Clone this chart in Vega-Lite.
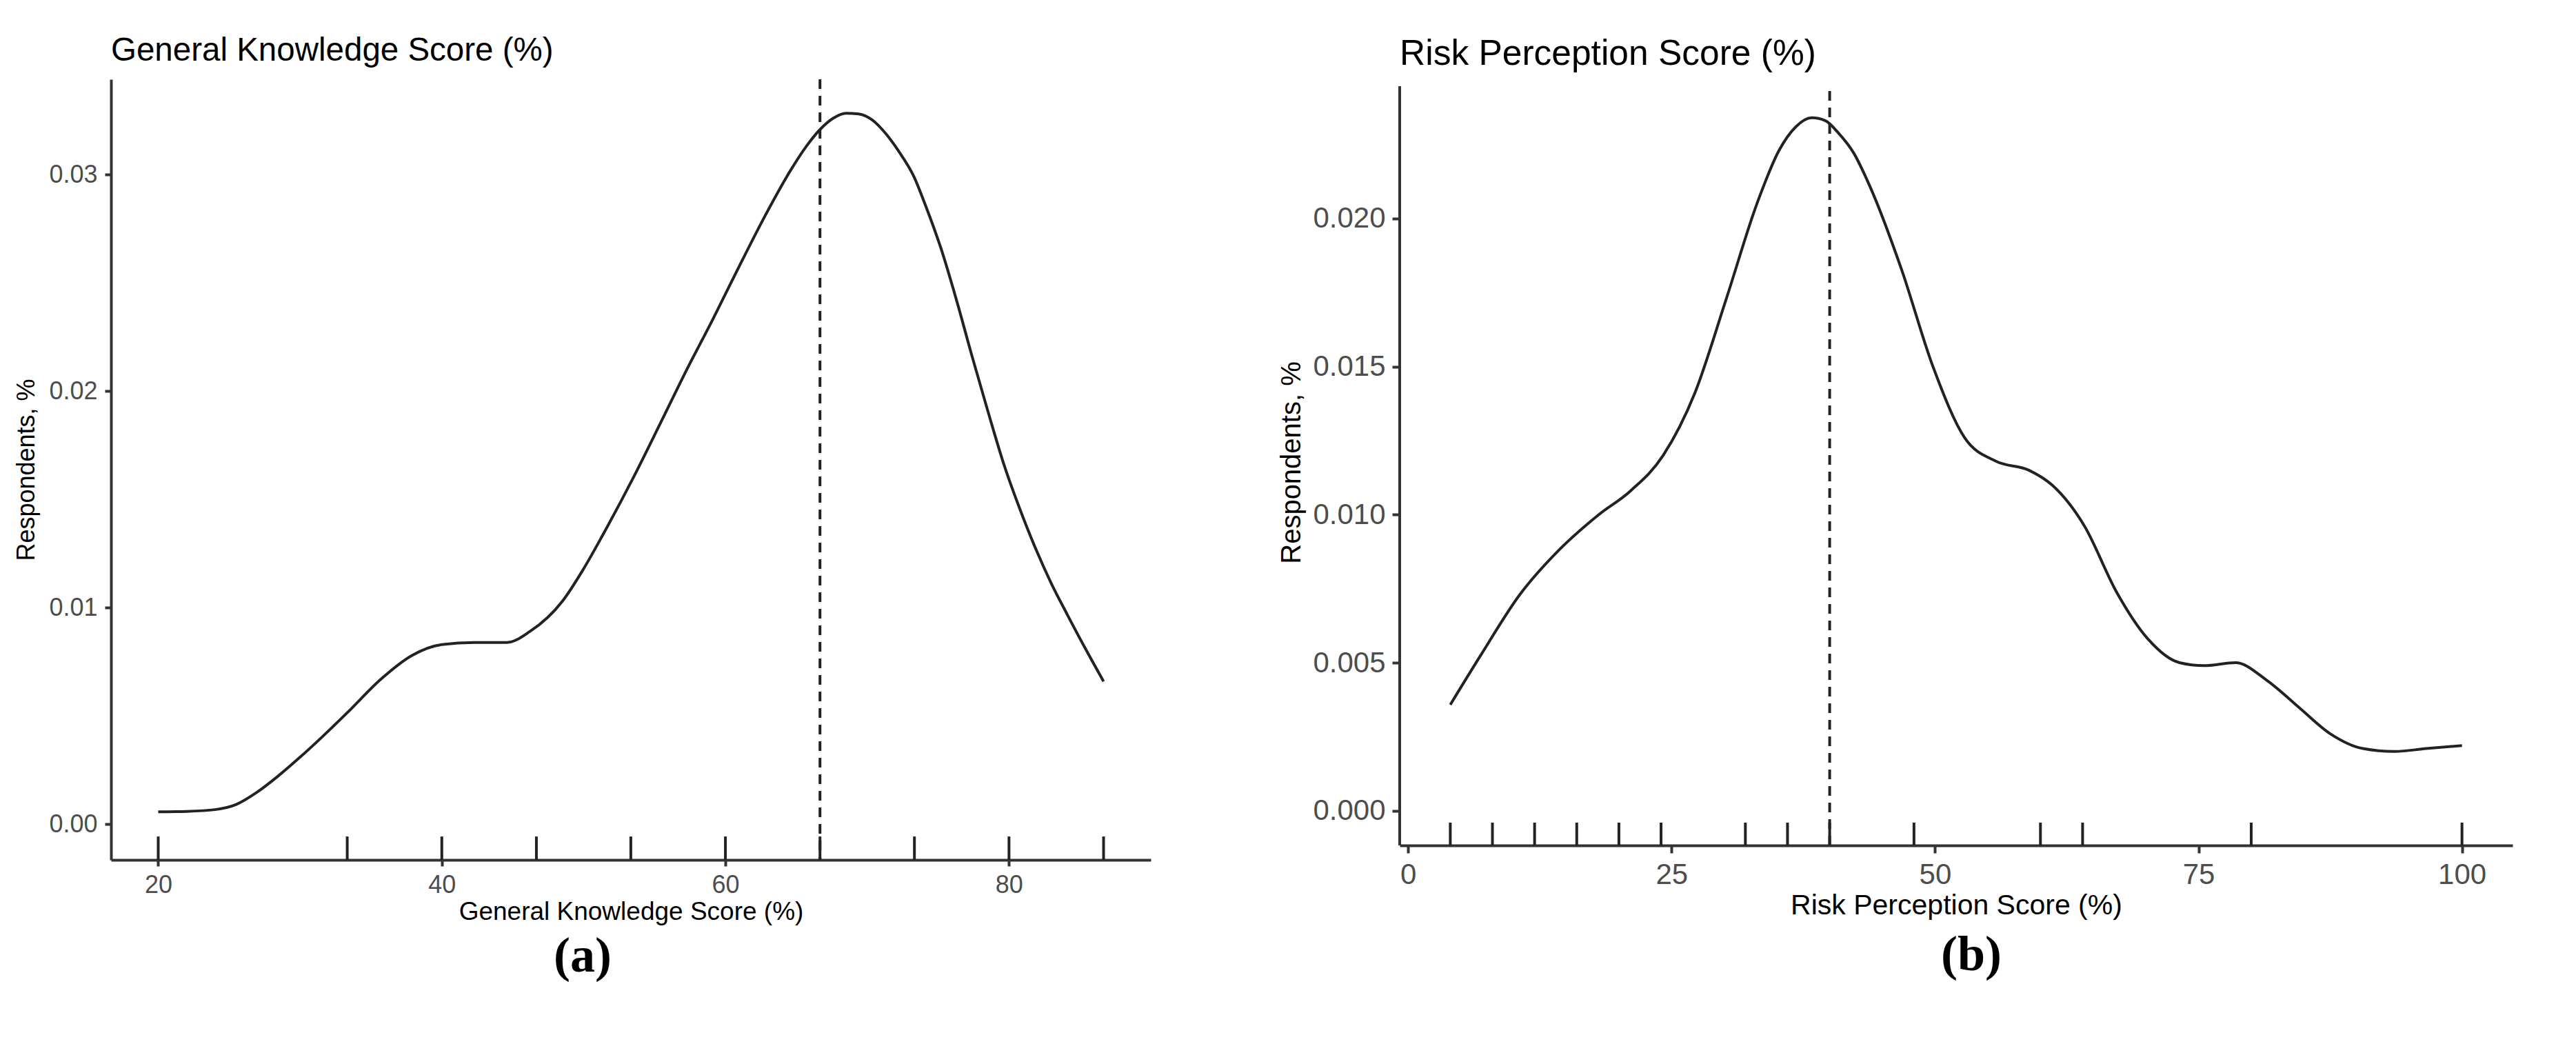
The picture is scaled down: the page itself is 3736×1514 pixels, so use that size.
{
  "$schema": "https://vega.github.io/schema/vega-lite/v6.json",
  "background": "white",
  "padding": {"left": 20, "top": 49, "right": 10, "bottom": 10},
  "datasets": {
    "gk": [
      {"score": 20, "density": 0.00058}, {"score": 22, "density": 0.0006}, {"score": 24, "density": 0.00068},
      {"score": 25.5, "density": 0.00092}, {"score": 27, "density": 0.0015}, {"score": 28.4, "density": 0.0022},
      {"score": 30, "density": 0.0031}, {"score": 31.5, "density": 0.004}, {"score": 33.4, "density": 0.0052},
      {"score": 35.7, "density": 0.0067}, {"score": 37.9, "density": 0.0078}, {"score": 40, "density": 0.0083},
      {"score": 42.3, "density": 0.0084}, {"score": 44.6, "density": 0.0084}, {"score": 46.2, "density": 0.0089},
      {"score": 48.5, "density": 0.0103}, {"score": 50, "density": 0.0118}, {"score": 51.3, "density": 0.0133},
      {"score": 53.5, "density": 0.016}, {"score": 55.4, "density": 0.0185}, {"score": 57.2, "density": 0.0209},
      {"score": 59.1, "density": 0.0233}, {"score": 61, "density": 0.0258}, {"score": 62.8, "density": 0.0281},
      {"score": 64.6, "density": 0.0302}, {"score": 65.7, "density": 0.0313}, {"score": 66.7, "density": 0.0321},
      {"score": 67.6, "density": 0.0326}, {"score": 68.5, "density": 0.03283}, {"score": 69.4, "density": 0.0328},
      {"score": 70.4, "density": 0.0325}, {"score": 71.3, "density": 0.0319}, {"score": 72.2, "density": 0.0311},
      {"score": 73.3, "density": 0.0299}, {"score": 74.1, "density": 0.0286}, {"score": 75.2, "density": 0.0266},
      {"score": 76.3, "density": 0.0242}, {"score": 77.4, "density": 0.0216}, {"score": 78.5, "density": 0.0191},
      {"score": 79.7, "density": 0.0165}, {"score": 80.8, "density": 0.0145}, {"score": 81.9, "density": 0.0127},
      {"score": 83, "density": 0.0111}, {"score": 84.1, "density": 0.0097}, {"score": 85.4, "density": 0.0081},
      {"score": 86.67, "density": 0.0066}
    ],
    "gkrug": [
      {"score": 20}, {"score": 33.33}, {"score": 40}, {"score": 46.67}, {"score": 53.33},
      {"score": 60}, {"score": 66.67}, {"score": 73.33}, {"score": 80}, {"score": 86.67}
    ],
    "gkmed": [{"score": 66.67}],
    "rp": [
      {"score": 4, "density": 0.00358}, {"score": 6.8, "density": 0.0052}, {"score": 10.6, "density": 0.0073},
      {"score": 14.3, "density": 0.0088}, {"score": 18.1, "density": 0.01}, {"score": 21.1, "density": 0.0108},
      {"score": 24.2, "density": 0.012}, {"score": 27.2, "density": 0.0141}, {"score": 30.2, "density": 0.0173},
      {"score": 33.2, "density": 0.0206}, {"score": 35.2, "density": 0.0223}, {"score": 36.8, "density": 0.0231},
      {"score": 38.3, "density": 0.0234}, {"score": 39.6, "density": 0.0233}, {"score": 40.8, "density": 0.0229},
      {"score": 42.3, "density": 0.0222}, {"score": 43.8, "density": 0.0211}, {"score": 46.8, "density": 0.0183},
      {"score": 49.8, "density": 0.015}, {"score": 52.8, "density": 0.0126}, {"score": 55.8, "density": 0.0118},
      {"score": 58.9, "density": 0.0115}, {"score": 61.1, "density": 0.011}, {"score": 64.2, "density": 0.0096},
      {"score": 67.2, "density": 0.0074}, {"score": 70.2, "density": 0.0058}, {"score": 73.2, "density": 0.005},
      {"score": 75.5, "density": 0.0049}, {"score": 78.5, "density": 0.005}, {"score": 81.5, "density": 0.0044},
      {"score": 84.5, "density": 0.0035}, {"score": 87.5, "density": 0.0026}, {"score": 90.6, "density": 0.0021},
      {"score": 93.6, "density": 0.002}, {"score": 96.6, "density": 0.0021}, {"score": 100, "density": 0.0022}
    ],
    "rprug": [
      {"score": 4}, {"score": 8}, {"score": 12}, {"score": 16}, {"score": 20}, {"score": 24}, {"score": 32},
      {"score": 36}, {"score": 40}, {"score": 48}, {"score": 60}, {"score": 64}, {"score": 80}, {"score": 100}
    ],
    "rpmed": [{"score": 40}],
    "rpaxis": [{"score": -0.8}]
  },
  "config": {
    "view": {"stroke": null},
    "font": "Liberation Sans",
    "axis": {
      "grid": false,
      "domainColor": "#333333",
      "domainWidth": 4,
      "tickColor": "#333333",
      "tickWidth": 4,
      "labelColor": "#4D4D4D",
      "labelFont": "Liberation Sans",
      "titleFont": "Liberation Sans",
      "titleFontWeight": "normal",
      "titleColor": "#000000",
      "labelFlush": false,
      "labelOverlap": false
    },
    "title": {"font": "Liberation Sans", "fontWeight": "normal", "color": "#000000"}
  },
  "spacing": 184,
  "hconcat": [
    {
      "title": {"text": "(a)", "orient": "bottom", "anchor": "middle", "font": "Liberation Serif", "fontSize": 72, "fontWeight": "bold", "offset": 12},
      "vconcat": [
        {
          "width": 1508,
          "height": 1132,
          "title": {"text": "General Knowledge Score (%)", "anchor": "start", "frame": "group", "fontSize": 47.5, "offset": 16},
          "layer": [
            {
              "data": {"name": "gk"},
              "mark": {"type": "line", "color": "#222222", "strokeWidth": 4, "interpolate": "monotone"},
              "encoding": {
                "x": {"field": "score", "type": "quantitative", "scale": {"domain": [16.67, 90], "nice": false, "zero": false},
                  "axis": {"values": [20, 40, 60, 80], "title": "General Knowledge Score (%)", "labelFontSize": 36, "titleFontSize": 37, "tickSize": 9, "labelPadding": 10, "titlePadding": 3}},
                "y": {"field": "density", "type": "quantitative", "scale": {"domain": [-0.00164, 0.0344], "nice": false, "zero": false},
                  "axis": {"values": [0, 0.01, 0.02, 0.03], "format": ".2f", "title": "Respondents, %", "labelFontSize": 36, "titleFontSize": 36, "tickSize": 9, "labelPadding": 11, "titlePadding": 13}}
              }
            },
            {
              "data": {"name": "gkrug"},
              "mark": {"type": "rule", "color": "#222222", "strokeWidth": 4},
              "encoding": {
                "x": {"field": "score", "type": "quantitative"},
                "y": {"datum": -0.00164},
                "y2": {"datum": -0.00056}
              }
            },
            {
              "data": {"name": "gkmed"},
              "mark": {"type": "rule", "color": "#222222", "strokeWidth": 4, "strokeDash": [14, 10]},
              "encoding": {"x": {"field": "score", "type": "quantitative"}}
            }
          ]
        }
      ]
    },
    {
      "title": {"text": "(b)", "orient": "bottom", "anchor": "middle", "font": "Liberation Serif", "fontSize": 72, "fontWeight": "bold", "offset": 17, "dx": 110},
      "vconcat": [
        {
          "width": 1614,
          "height": 1111,
          "title": {"text": "Risk Perception Score (%)", "anchor": "start", "frame": "group", "fontSize": 51.5, "offset": 11},
          "layer": [
            {
              "data": {"name": "rp"},
              "mark": {"type": "line", "color": "#222222", "strokeWidth": 4, "interpolate": "monotone"},
              "encoding": {
                "x": {"field": "score", "type": "quantitative", "scale": {"domain": [-0.8, 104.8], "nice": false, "zero": false},
                  "axis": {"values": [0, 25, 50, 75, 100], "title": "Risk Perception Score (%)", "labelFontSize": 42, "titleFontSize": 41, "tickSize": 11, "labelPadding": 11, "titlePadding": 4}},
                "y": {"field": "density", "type": "quantitative", "scale": {"domain": [-0.00117, 0.0247], "nice": false, "zero": false},
                  "axis": {"values": [0, 0.005, 0.01, 0.015, 0.02], "format": ".3f", "title": "Respondents, %", "domain": false, "labelFontSize": 42, "titleFontSize": 40, "tickSize": 11, "labelPadding": 10, "titlePadding": 10}}
              }
            },
            {
              "data": {"name": "rpaxis"},
              "mark": {"type": "rule", "color": "#333333", "strokeWidth": 4},
              "encoding": {
                "x": {"field": "score", "type": "quantitative"},
                "y": {"datum": -0.00117},
                "y2": {"datum": 0.02447}
              }
            },
            {
              "data": {"name": "rprug"},
              "mark": {"type": "rule", "color": "#222222", "strokeWidth": 4},
              "encoding": {
                "x": {"field": "score", "type": "quantitative"},
                "y": {"datum": -0.00117},
                "y2": {"datum": -0.0004}
              }
            },
            {
              "data": {"name": "rpmed"},
              "mark": {"type": "rule", "color": "#222222", "strokeWidth": 4, "strokeDash": [14, 10]},
              "encoding": {
                "x": {"field": "score", "type": "quantitative"},
                "y": {"datum": -0.00117},
                "y2": {"datum": 0.02447}
              }
            }
          ]
        }
      ]
    }
  ]
}
